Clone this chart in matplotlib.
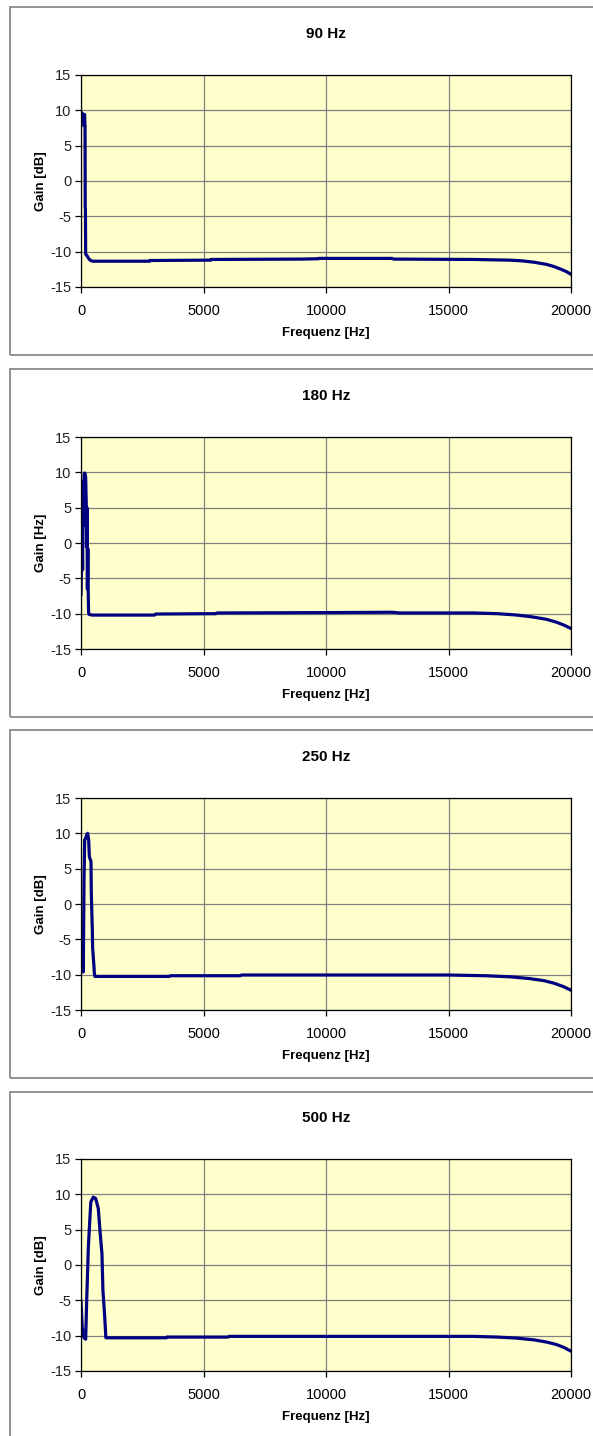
import matplotlib
matplotlib.use("Agg")
import matplotlib.pyplot as plt
from matplotlib.patches import Rectangle

plt.rcParams['font.family'] = ['Liberation Sans', 'DejaVu Sans']
plt.rcParams['axes.unicode_minus'] = False

# Werte
titel = ['90 Hz', '180 Hz', '250 Hz', '500 Hz']
ylabels = ['Gain [dB]', 'Gain [Hz]', 'Gain [dB]', 'Gain [dB]']

f_90 = [0, 20, 40, 60, 90, 130, 150, 158, 165, 172, 180, 190, 200, 250, 300, 370, 475,
        2800, 2810, 5300, 5310, 9000, 9700, 9710, 12700, 12750, 16000, 17500, 18000,
        18500, 19000, 19300, 19600, 19800, 20000]
g_90 = [9.8, 9.6, 7.9, 9.5, 9.5, 9.4, 9.4, 7.8, 7.8, -3.8, -3.9, -10.3, -10.4, -10.6, -10.9,
        -11.2, -11.35, -11.35, -11.25, -11.2, -11.1, -11.05, -11.0, -10.95, -10.95, -11.05,
        -11.1, -11.2, -11.3, -11.5, -11.8, -12.1, -12.5, -12.8, -13.2]

f_180 = [0, 25, 45, 65, 85, 105, 125, 150, 165, 190, 215, 225, 245, 260, 280, 295, 310,
         330, 450, 3000, 3050, 5500, 5550, 10000, 12700, 13000, 16000, 17000, 17800,
         18400, 19000, 19400, 19700, 20000]
g_180 = [-7.3, -2.0, 2.8, -3.8, 8.7, 2.5, 9.6, 9.9, 9.8, 9.3, 5.4, -0.5, 5.0, -6.5, -0.8,
         -7.0, -9.9, -10.1, -10.2, -10.2, -10.05, -10.0, -9.9, -9.85, -9.8, -9.9, -9.9,
         -10.0, -10.2, -10.45, -10.8, -11.2, -11.6, -12.1]

f_250 = [0, 40, 68, 95, 122, 150, 190, 231, 272, 313, 340, 408, 421, 462, 475, 530, 545,
         571, 3600, 3650, 6500, 6550, 15000, 16500, 17500, 18300, 18900, 19300, 19700, 20000]
g_250 = [-4.9, -9.6, -5.1, -9.6, 3.2, 9.1, 9.3, 9.8, 10.0, 9.1, 6.7, 6.0, 1.5, -3.7, -6.2,
         -8.9, -9.8, -10.25, -10.25, -10.15, -10.15, -10.05, -10.05, -10.15, -10.3,
         -10.55, -10.85, -11.2, -11.7, -12.2]

f_500 = [0, 50, 120, 190, 230, 300, 350, 400, 500, 600, 705, 785, 855, 895, 960, 1015,
         3480, 3500, 6000, 6050, 16000, 17000, 17800, 18500, 19000, 19400, 19700, 20000]
g_500 = [-5.1, -8.8, -10.3, -10.5, -5.3, 2.5, 5.8, 8.9, 9.6, 9.4, 8.0, 4.4, 1.6, -3.6,
         -6.9, -10.3, -10.3, -10.2, -10.2, -10.1, -10.1, -10.2, -10.35, -10.6, -10.9,
         -11.25, -11.65, -12.2]

freqs = [f_90, f_180, f_250, f_500]
gains = [g_90, g_180, g_250, g_500]

W, H = 593, 1436
fig = plt.figure(figsize=(W / 100, H / 100), dpi=100)
fig.patch.set_facecolor('white')

rahmen_oben = [7, 369, 730, 1092]
plot_oben = [75, 437, 798, 1159]

for i in range(4):
    # Rahmen um jedes Diagramm
    y0 = rahmen_oben[i]
    fig.patches.append(Rectangle((10 / W, 1 - (y0 + 348) / H), 600 / W, 348 / H,
                                 transform=fig.transFigure, fill=False,
                                 edgecolor='#808080', lw=1.2))

    top = plot_oben[i]
    ax = fig.add_axes([81 / W, 1 - (top + 212) / H, 490 / W, 212 / H])
    ax.set_facecolor('#FFFFCC')
    ax.plot(freqs[i], gains[i], color='#000080', lw=2.3, solid_joinstyle='round')
    ax.set_xlim(0, 20000)
    ax.set_ylim(-15, 15)
    ax.set_xticks([0, 5000, 10000, 15000, 20000])
    ax.set_yticks([-15, -10, -5, 0, 5, 10, 15])
    ax.grid(True, color='#808080', lw=0.9)
    ax.set_axisbelow(True)
    for sp in ax.spines.values():
        sp.set_color('black')
        sp.set_linewidth(0.9)
    ax.tick_params(direction='out', length=4, width=0.9, labelsize=10.5,
                   colors='black', pad=3)
    ax.tick_params(axis='x', pad=8)
    ax.tick_params(axis='y', labelcolor='#222222')
    ax.set_title(titel[i], fontsize=11, fontweight='bold', pad=27)
    ax.set_xlabel('Frequenz [Hz]', fontsize=9.5, fontweight='bold', labelpad=7)
    ax.set_ylabel(ylabels[i], fontsize=9.5, fontweight='bold', labelpad=2)

fig.savefig('out.png', dpi=100)
